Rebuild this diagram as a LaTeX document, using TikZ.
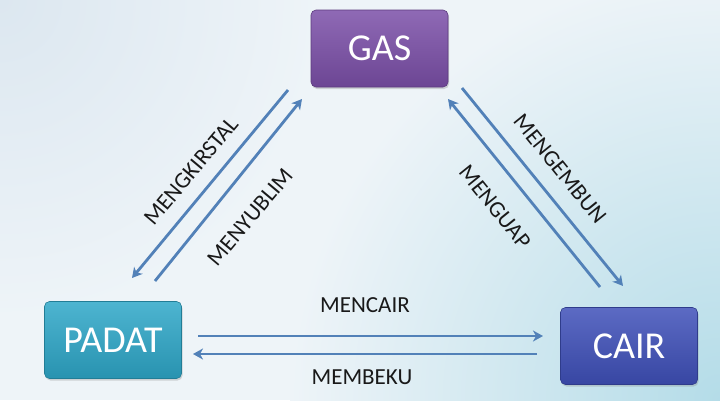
\documentclass[tikz,border=0pt]{standalone}
\usepackage{fontspec}
\setmainfont{Carlito}
\usepackage{xcolor}
\usetikzlibrary{arrows.meta,shadows}
\definecolor{gasungu}{HTML}{7B4FA8}
\definecolor{padatbiru}{HTML}{2EA7C8}
\definecolor{cairbiru}{HTML}{3F50B9}
\definecolor{panahbiru}{HTML}{5281B8}
\definecolor{latarkiri}{HTML}{DCE7F0}
\definecolor{latartengah}{HTML}{EEF4F8}
\definecolor{latarkanan}{HTML}{B4DCE8}

\begin{document}
\begin{tikzpicture}[x=1pt, y=-1pt,
    fase/.style={rounded corners=5pt, minimum width=137pt, minimum height=77pt,
        draw=#1!75!black, line width=0.6pt, top color=#1!85!white, bottom color=#1!88!black,
        text=white, font=\fontsize{38}{38}\selectfont,
        drop shadow={opacity=0.3, shadow xshift=1pt, shadow yshift=-2pt}},
    panah/.style={draw=panahbiru, line width=2.8pt, -{Stealth[length=10pt, width=11pt, inset=3pt]}},
    proses/.style={text=black!90, font=\fontsize{23}{23}\selectfont, inner sep=0pt}]

    \useasboundingbox (0,0) rectangle (720,400);
    % latar
    \fill[latartengah] (0,0) rectangle (720,400);
    \begin{scope}
        \clip (0,0) rectangle (720,400);
        \shade[inner color=latarkiri, outer color=latartengah] (0,0) circle (320);
        \shade[inner color=latarkanan, outer color=latartengah] (720,400) circle (430);
    \end{scope}

    \node[fase=gasungu] (gas) at (379.5,48.5) {GAS};
    \node[fase=padatbiru] (padat) at (113,340) {PADAT};
    \node[fase=cairbiru] (cair) at (629,346) {CAIR};

    % ujung panah
    \coordinate (kirstal-a) at (288,90);   \coordinate (kirstal-b) at (132,278);
    \coordinate (yublim-a) at (155,281);   \coordinate (yublim-b) at (302,99);
    \coordinate (uap-a) at (600,287);      \coordinate (uap-b) at (448,99);
    \coordinate (embun-a) at (462,88);     \coordinate (embun-b) at (623,286);
    \coordinate (cair-a) at (198,336);     \coordinate (cair-b) at (543,336);
    \coordinate (beku-a) at (537,354);     \coordinate (beku-b) at (193,354);

    \draw[panah] (kirstal-a) -- (kirstal-b);
    \draw[panah] (yublim-a) -- (yublim-b);
    \draw[panah] (uap-a) -- (uap-b);
    \draw[panah] (embun-a) -- (embun-b);
    \draw[panah] (cair-a) -- (cair-b);
    \draw[panah] (beku-a) -- (beku-b);

    \node[proses, rotate=50] (mengkirstal) at (191,171) {MENGKIRSTAL};
    \node[proses, rotate=50] (menyublim) at (250,217) {MENYUBLIM};
    \node[proses, rotate=-51] (mengembun) at (560,169) {MENGEMBUN};
    \node[proses, rotate=-51] (menguap) at (495,207) {MENGUAP};
    \node[proses] (mencair) at (365,305.5) {MENCAIR};
    \node[proses] (membeku) at (362,377.5) {MEMBEKU};
\end{tikzpicture}
\end{document}
